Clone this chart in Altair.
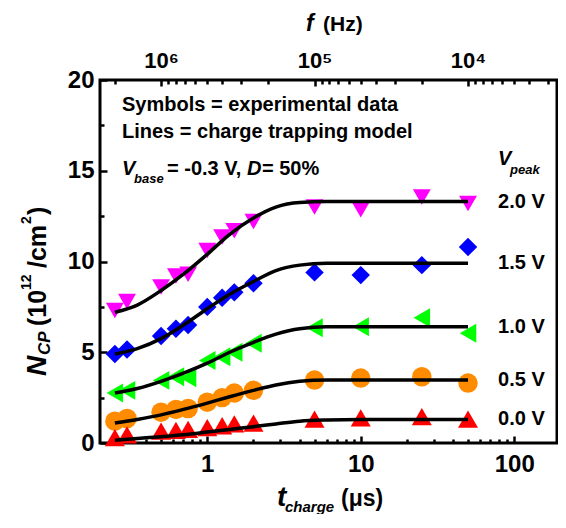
import altair as alt
import pandas as pd

FONT = "Liberation Sans"

# ---------------- data ----------------
series = ["2.0 V", "1.5 V", "1.0 V", "0.5 V", "0.0 V"]
colors = ["#FF00FF", "#0000FF", "#00FF00", "#FF8C00", "#FF0000"]
shapes = ["triangle-down", "diamond", "triangle-left", "circle", "triangle-up"]

t_exp = [0.25, 0.3, 0.5, 0.625, 0.75, 1, 1.25, 1.5, 2, 5, 10, 25, 50]
n_20 = [7.3, 7.8, 8.6, 9.2, 9.3, 10.6, 11.35, 11.7, 12.2, 13.0, 12.85, 13.55, 13.2]
n_15 = [4.9, 5.15, 5.9, 6.3, 6.5, 7.5, 8.0, 8.3, 8.8, 9.4, 9.25, 9.8, 10.8]
n_10 = [2.75, 2.9, 3.45, 3.65, 3.6, 4.55, 4.75, 5.0, 5.5, 6.35, 6.4, 6.9, 6.05]
n_05 = [1.2, 1.35, 1.7, 1.85, 1.9, 2.25, 2.5, 2.75, 2.9, 3.47, 3.58, 3.65, 3.3]
n_00 = [0.3, 0.45, 0.65, 0.7, 0.75, 0.85, 0.95, 1.05, 1.1, 1.32, 1.38, 1.45, 1.32]

t_model = [0.25, 0.35, 0.5, 0.7, 1, 1.4, 2, 2.8, 4, 6, 10, 50]
m_20 = [7.2, 7.6, 8.4, 9.3, 10.4, 11.5, 12.4, 13.0, 13.25, 13.3, 13.3, 13.3]
m_15 = [4.9, 5.2, 5.75, 6.5, 7.4, 8.2, 8.9, 9.5, 9.8, 9.9, 9.9, 9.9]
m_10 = [2.75, 3.0, 3.4, 3.85, 4.4, 5.0, 5.55, 6.0, 6.3, 6.4, 6.4, 6.4]
m_05 = [1.1, 1.3, 1.55, 1.85, 2.2, 2.55, 2.9, 3.2, 3.4, 3.47, 3.47, 3.47]
m_00 = [0.15, 0.25, 0.35, 0.45, 0.6, 0.75, 0.9, 1.05, 1.2, 1.27, 1.3, 1.3]

x_major = [1, 10, 100]
x_minor = [0.3, 0.4, 0.5, 0.6, 0.7, 0.8, 0.9, 2, 3, 4, 5, 6, 7, 8, 9,
           20, 30, 40, 50, 60, 70, 80, 90]
f_major = [1e6, 1e5, 1e4]
f_major_labels = ["10\u2076", "10\u2075", "10\u2074"]
f_minor = [2e6, 9e5, 8e5, 7e5, 6e5, 5e5, 4e5, 3e5, 2e5,
           9e4, 8e4, 7e4, 6e4, 5e4, 4e4, 3e4, 2e4,
           9e3, 8e3, 7e3, 6e3, 5e3, 4e3, 3e3]
y_major = [0, 5, 10, 15, 20]
y_minor = [2.5, 7.5, 12.5, 17.5]

# ---------------- tables ----------------
exp_rows, mod_rows = [], []
for s, vals in zip(series, [n_20, n_15, n_10, n_05, n_00]):
    for t, v in zip(t_exp, vals):
        exp_rows.append({"t": t, "N": v, "s": s})
for s, vals in zip(series, [m_20, m_15, m_10, m_05, m_00]):
    for t, v in zip(t_model, vals):
        mod_rows.append({"t": t, "N": v, "s": s})
exp_df = pd.DataFrame(exp_rows)
mod_df = pd.DataFrame(mod_rows)
lab_df = pd.DataFrame({"t": [t_model[-1]] * 5,
                       "N": [m[-1] for m in [m_20, m_15, m_10, m_05, m_00]],
                       "s": series})

# tick positions for the frequency axis (t = D / f, D = 50 %), in microseconds
f_to_t = lambda f: 0.5e6 / f
top_major = [f_to_t(f) for f in f_major]
top_minor = [f_to_t(f) for f in f_minor]
top_expr = " : ".join(
    [f"datum.value == {tv} ? '{lb}'" for tv, lb in zip(top_major[:-1], f_major_labels[:-1])]
    + [f"'{f_major_labels[-1]}'"]
)

xs = alt.Scale(type="log", domain=[0.2, 190], nice=False)
ys = alt.Scale(domain=[0, 20], nice=False, zero=False)

common = dict(domain=False, grid=False, tickColor="black", tickWidth=2.5,
              labelFont=FONT, labelFontWeight="bold", labelColor="black",
              labelFlush=False, labelOverlap=False, title=None)

ax_bot_major = alt.Axis(orient="bottom", values=x_major, tickSize=7, offset=-7,
                        labelFontSize=24, labelPadding=9, format="~g", **common)
ax_bot_minor = alt.Axis(orient="bottom", values=x_minor, tickSize=4, offset=-4,
                        labels=False, **common)
ax_top_major = alt.Axis(orient="top", values=top_major, tickSize=6, offset=-6,
                        labelFontSize=22, labelPadding=8, labelExpr=top_expr, **common)
ax_top_minor = alt.Axis(orient="top", values=top_minor, tickSize=4, offset=-4,
                        labels=False, **common)
ax_left_major = alt.Axis(orient="left", values=y_major, tickSize=7, offset=-7,
                         labelFontSize=24, labelPadding=6, **common)
ax_left_minor = alt.Axis(orient="left", values=y_minor, tickSize=4, offset=-4,
                         labels=False, **common)

points = alt.Chart(exp_df).mark_point(filled=True, opacity=1).encode(
    x=alt.X("t:Q", scale=xs, axis=ax_bot_major),
    y=alt.Y("N:Q", scale=ys, axis=ax_left_major),
    color=alt.Color("s:N", scale=alt.Scale(domain=series, range=colors), legend=None),
    shape=alt.Shape("s:N", scale=alt.Scale(domain=series, range=shapes), legend=None),
    size=alt.Size("s:N", scale=alt.Scale(domain=series, range=[320, 400, 360, 290, 320]),
                  legend=None),
)

lines = alt.Chart(mod_df).mark_line(color="black", strokeWidth=3.5,
                                    interpolate="monotone").encode(
    x=alt.X("t:Q", scale=xs, axis=ax_bot_minor),
    y=alt.Y("N:Q", scale=ys, axis=ax_left_minor),
    detail="s:N",
)

top1 = alt.Chart(exp_df).mark_point(opacity=0).encode(
    x=alt.X("t:Q", scale=xs, axis=ax_top_major),
    y=alt.Y("N:Q", scale=ys, axis=None),
)
top2 = alt.Chart(exp_df).mark_point(opacity=0).encode(
    x=alt.X("t:Q", scale=xs, axis=ax_top_minor),
    y=alt.Y("N:Q", scale=ys, axis=None),
)

labels = alt.Chart(lab_df).mark_text(align="left", baseline="middle", dx=30, font=FONT,
                                     fontSize=20, fontWeight="bold", color="black").encode(
    x=alt.X("t:Q", scale=xs, axis=None),
    y=alt.Y("N:Q", scale=ys, axis=None),
    text="s:N",
)

dummy = pd.DataFrame({"a": [0]})
OX, OY = 100, 80


def txt(s, x, y, size, italic=False, angle=0, align="left"):
    kw = dict(text=s, font=FONT, fontSize=size, fontWeight="bold",
              fontStyle="italic" if italic else "normal", align=align,
              baseline="alphabetic", color="black")
    if angle:
        kw["angle"] = angle
    return alt.Chart(dummy).mark_text(**kw).encode(x=alt.value(x - OX), y=alt.value(y - OY))


ann = [
    txt("Symbols = experimental data", 122, 111, 20),
    txt("Lines = charge trapping model", 122, 138, 20),
    txt("V", 122, 175, 20, True),
    txt("base", 134, 183, 13, True),
    txt("= -0.3 V,", 167, 175, 20),
    txt("D", 247, 175, 20, True),
    txt("= 50%", 262, 175, 20),
    txt("V", 498, 165, 20, True),
    txt("peak", 510, 174, 13, True),
    # top title
    txt("f", 306, 31, 23, True),
    txt("(Hz)", 323, 31, 21),
    # bottom title
    txt("t", 277, 506, 28, True),
    txt("charge", 285, 512, 15, True),
    txt("(\u03bcs)", 341, 506, 23),
    # y title (rotated)
    txt("N", 46, 376, 28, True, 270),
    txt("CP", 50, 355, 17, True, 270),
    txt("(10", 46, 326, 25, False, 270),
    txt("12", 31, 290, 14, False, 270),
    txt("/cm", 46, 268, 25, False, 270),
    txt("2", 31, 224, 14, False, 270),
    txt(")", 46, 215, 25, False, 270),
]

chart = alt.layer(points, lines, top1, top2, labels, *ann).resolve_axis(
    x="independent", y="independent"
).properties(
    width=457, height=363,
    autosize=alt.AutoSizeParams(type="none"),
    padding={"left": 92, "top": 72, "right": 1, "bottom": 71},
    background="white",
).configure_view(stroke="black", strokeWidth=3)

chart.save("out.html", embed_options={"renderer": "svg", "actions": False})
